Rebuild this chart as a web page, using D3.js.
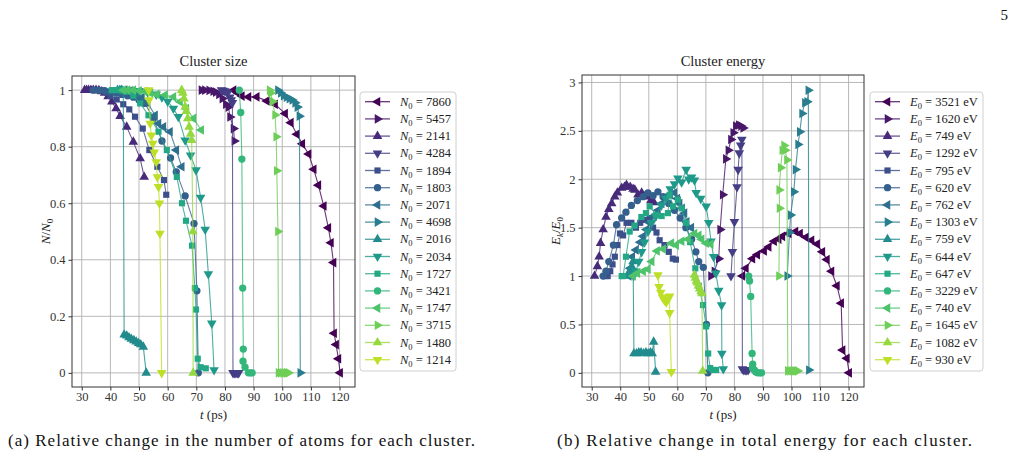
<!DOCTYPE html>
<html>
<head>
<meta charset="utf-8">
<script src="https://cdn.jsdelivr.net/npm/d3@7"></script>
<style>
  body { margin: 0; background: #fff; }
  svg { display: block; font-family: "Liberation Serif", "DejaVu Serif", serif; }
</style>
</head>
<body>
<div id="chart"></div>
<script>
// legend values (N0 for left panel, E0 in eV for right panel)
const sizeLabels = [7860, 5457, 2141, 4284, 1894, 1803, 2071, 4698, 2016, 2034, 1727, 3421, 1747, 3715, 1480, 1214];
const energyLabels = [3521, 1620, 749, 1292, 795, 620, 762, 1303, 759, 644, 647, 3229, 740, 1645, 1082, 930];
const markerCycle = ['<', '>', '^', 'v', 's', 'o'];

const timeTicks = [30, 40, 50, 60, 70, 80, 90, 100, 110, 120];
const sizeTicks = [0, 0.2, 0.4, 0.6, 0.8, 1];
const energyTicks = [0, 0.5, 1, 1.5, 2, 2.5, 3];

// N/N0 against t (ps), one list per cluster, same order as sizeLabels
const sizeData = [
  [[83,1],[84.5,0.99],[85.9,0.979],[88.2,0.976],[91.1,0.976],[94.6,0.962],[97.5,0.95],[101,0.917],[103,0.885],[105.1,0.844],[107,0.81],[109.2,0.774],[111,0.72],[112.6,0.664],[114.5,0.59],[116.1,0.513],[117,0.46],[117.9,0.39],[118.1,0.14],[118.8,0.1],[119.6,0.05],[120.2,0]],
  [[71.8,1],[73,1],[74.5,0.999],[75.9,0.996],[76.8,0.993],[77.9,0.985],[79.1,0.97],[80.3,0.95],[81.2,0.94],[81.8,0.905],[83,0.864],[83.3,0.82]],
  [[31,1],[31.7,1],[32.4,1],[33.2,1],[34,1],[35,1],[36,0.999],[37,0.995],[38,0.99],[39.2,0.978],[40.5,0.959],[42,0.935],[43.4,0.908],[45.7,0.87],[48,0.817],[50.4,0.758],[51.8,0.693]],
  [[78.8,1],[79.3,0.999],[80,0.997],[80.9,0.99],[81.7,0.975],[82.2,0.965],[82.6,0.955],[82.8,0],[83.3,0],[83.8,0],[84.3,0],[84.8,0]],
  [[35,1],[36,1],[37,0.999],[38,0.995],[39,0.99],[40,0.98],[42.2,0.967],[44.5,0.95],[46.6,0.932],[48.6,0.906],[51.3,0.864],[53.6,0.788],[56.4,0.729],[58.7,0.682],[59.5,0.63]],
  [[34,1],[36,1],[38,0.998],[40,0.995],[42,0.99],[44,0.985],[46,0.98],[48,0.975],[50,0.965],[52.1,0.953],[55,0.9],[58,0.82],[61,0.76],[63,0.711],[66.1,0.626],[69.2,0.528],[70.2,0.29],[70.7,0]],
  [[43,1],[45,1],[47,0.998],[49,0.99],[51,0.975],[53,0.955],[55.6,0.911],[56.8,0.882],[58.5,0.87],[60.8,0.853],[63,0.788],[64.9,0.729]],
  [[98.5,1],[99.5,0.99],[100.5,0.98],[101.5,0.975],[102.5,0.97],[103.5,0.965],[104.5,0.955],[105.3,0.94],[106,0.908],[106.3,0]],
  [[42.5,1],[43.3,1],[44,1],[44.5,0.995],[44.8,0.135],[45.7,0.131],[46.5,0.125],[47.3,0.12],[48.2,0.115],[49,0.11],[49.8,0.105],[50.6,0.1],[51.5,0.092],[52.5,0]],
  [[44.7,1],[47,1],[50,0.998],[53,0.993],[56,0.985],[58,0.975],[60,0.96],[62,0.935],[63.7,0.906],[66.1,0.823],[68,0.77],[69.9,0.717],[71.5,0.62],[73.1,0.507],[74.2,0.35],[75.4,0.175],[76.2,0.01]],
  [[40.5,1],[42,1],[44,1],[46,0.995],[48,0.98],[50.4,0.953],[53.3,0.911],[56.8,0.853],[59.7,0.788],[63.2,0.693],[65,0.6],[66.4,0.538],[68.5,0.45],[69.5,0.3],[69.9,0.224],[70.5,0.05],[71.5,0.02],[73.3,0.016]],
  [[85,1],[85.5,0.921],[85.9,0.756],[86.2,0.3],[86.4,0.084],[86.3,0.041],[87,0.02],[88.2,0],[89,0],[89.5,0]],
  [[44.5,1],[46,1],[48,1],[50,0.998],[52,0.995],[54,0.99],[56.2,0.985],[59.1,0.983],[62,0.976],[64.3,0.959],[66.5,0.935],[69,0.9],[71.7,0.859]],
  [[95.6,1],[96,0.99],[96.6,0.96],[97.5,0.912],[97.9,0.835],[98.1,0.715],[98.5,0.5],[98.7,0],[99.5,0],[100.3,0],[101,0],[101.6,0],[102.2,0]],
  [[64.9,1],[65.3,0.99],[65.7,0.97],[66.1,0.941],[66.5,0.925],[67,0.9],[67.5,0.87],[68,0.845],[68.4,0.823],[68.8,0.5],[68.9,0]],
  [[53.3,1],[53.5,0.965],[53.9,0.882],[54.3,0.84],[54.8,0.811],[55.3,0.78],[56,0.746],[56.4,0.693],[56.8,0.658],[57.1,0.6],[57.3,0.493],[57.9,0]]
];

// Ek/E0 against t (ps), same order as energyLabels
const energyData = [
  [[82.8,1],[84,1.08],[86.3,1.18],[88,1.22],[90.4,1.26],[92,1.3],[93.9,1.36],[95.5,1.38],[96.8,1.41],[99,1.44],[101.4,1.46],[103,1.44],[105.1,1.4],[107,1.37],[109,1.33],[110.8,1.25],[112.4,1.17],[114,1.05],[115.9,0.9],[117.4,0.72],[117.9,0.235],[119.4,0.15],[120.2,0]],
  [[71.8,1],[73,1.05],[74.5,1.18],[75,1.48],[75.9,1.84],[77,2.21],[77.9,2.3],[78.8,2.41],[79.6,2.48],[80.5,2.55],[81.5,2.56],[82.3,2.55],[83.1,2.53]],
  [[31,1],[32,1.1],[32.6,1.2],[33.1,1.34],[34,1.48],[35,1.61],[36,1.69],[37,1.75],[38.1,1.82],[39,1.86],[40.5,1.91],[41.5,1.92],[42.2,1.94],[43.5,1.92],[44.5,1.9],[45.1,1.89],[46.2,1.84],[47.5,1.86],[48.5,1.82],[49.6,1.83],[50.7,1.78],[51.8,1.76]],
  [[78.8,1],[79.3,1.25],[80,1.56],[80.9,1.92],[81.3,2.1],[81.7,2.27],[82.2,2.35],[82.6,2.41],[82.8,0.04],[83.3,0.03],[83.8,0.03],[84.3,0.03],[84.8,0.03]],
  [[35,1],[35.6,1],[36.5,1.05],[37.3,1.12],[38.1,1.2],[39,1.32],[39.9,1.44],[41,1.42],[42.2,1.55],[43.9,1.55],[45.5,1.5],[47,1.55],[48.5,1.58],[50.3,1.6],[51.5,1.5],[52.7,1.45],[53.8,1.37],[55.5,1.32],[57,1.25],[58.4,1.18],[59.5,1.17]],
  [[34,1],[35,1.05],[36,1.15],[37.6,1.32],[38.7,1.53],[40.5,1.6],[42,1.66],[43.9,1.73],[46,1.78],[48,1.82],[49.7,1.86],[51.5,1.83],[53.2,1.87],[55,1.82],[57,1.75],[59,1.68],[61,1.6],[63,1.5],[65,1.38],[66.5,1.25],[67.5,1.15],[69.1,1.09],[70.2,0.5],[70.7,0]],
  [[43,1],[43.5,1.08],[44.2,1.2],[45.5,1.27],[47,1.35],[48,1.41],[49.2,1.48],[50.3,1.55],[51.8,1.62],[53.2,1.68],[54.5,1.75],[55.9,1.82],[57.5,1.84],[59,1.86],[60,1.8],[60.8,1.75],[61.7,1.7],[62.5,1.65],[63.3,1.56],[64.9,1.5]],
  [[98.5,1],[99.3,1.45],[99.7,1.63],[100.8,1.87],[101.4,2.1],[102.3,2.36],[102.9,2.49],[103.7,2.68],[104.7,2.79],[105.5,2.8],[105.9,2.92],[106.1,0.03]],
  [[42.5,1],[43.3,1.05],[44,1.1],[44.5,1.15],[44.8,0.2],[45.7,0.2],[46.5,0.21],[47.3,0.21],[48.2,0.2],[49,0.21],[49.8,0.2],[50.6,0.21],[51.2,0.2],[51.7,0.32],[52.4,0.01]],
  [[44.7,1],[45.5,1.05],[46.5,1.15],[47.5,1.25],[48.5,1.35],[49.7,1.46],[51,1.55],[52.5,1.62],[54.4,1.73],[56,1.8],[57.5,1.9],[59,1.95],[60.2,2.01],[61.5,1.97],[63.1,2.1],[64,2.0],[65,2.02],[66,1.99],[66.6,1.86],[68.2,1.8],[70.1,1.72],[71,1.55],[71.8,1.36],[72.7,1.2],[73.5,1.03],[74.5,0.85],[75.5,0.7],[75.6,0.2],[76.1,0.04]],
  [[40.5,1],[41,1],[42,1.2],[43.3,1.46],[45,1.52],[47.4,1.61],[49,1.65],[50.3,1.72],[52.6,1.63],[54.5,1.62],[56.7,1.65],[57.3,1.84],[58.5,1.72],[60.2,1.79],[61.5,1.7],[63,1.55],[64.5,1.35],[66.3,1.08],[67.5,0.9],[69,0.7],[70.1,0.48],[70.8,0.2],[71.5,0.05],[72.4,0.03],[73.6,0.03]],
  [[85,1],[85.3,0.95],[85.7,0.79],[86.2,0.2],[86.4,0.09],[86.3,0.05],[87,0.03],[87.5,0.01],[88.2,0],[89,0],[89.5,0]],
  [[44.5,1],[46,1.03],[48,1.05],[49.7,1.07],[51,1.15],[52.9,1.26],[55,1.28],[57.9,1.34],[59.6,1.32],[61.5,1.36],[63.7,1.38],[66,1.44],[67.5,1.42],[68.5,1.38],[70.1,1.34],[71.7,1.33]],
  [[95.6,1],[95.8,1.7],[95.7,1.89],[96.2,2.12],[96.8,2.3],[97.4,2.35],[97.8,2.3],[98.4,2.2],[98.7,0.02],[99.5,0.02],[100.3,0.02],[101,0.02],[101.6,0.02],[102.2,0.02]],
  [[66,1.01],[66.3,0.98],[66.7,0.95],[67,0.93],[67.4,0.9],[67.8,0.87],[68.3,0.84],[68.6,0.82],[68.9,0.02]],
  [[53.2,1.01],[53.6,0.89],[54.2,0.83],[54.8,0.78],[55.5,0.75],[56.1,0.73],[56.7,0.76],[57.3,0.79],[57.3,0.62],[57.9,0.01]]
];

const W = 1021, H = 458;
const colors = sizeLabels.map((d, i) => d3.interpolateViridis(i / 15 * 0.9));

const svg = d3.select("#chart").append("svg")
  .attr("width", W)
  .attr("height", H);

function markerPath(m) {
  if (m === 's') return d3.symbol(d3.symbolSquare, 38)();
  if (m === 'o') return d3.symbol(d3.symbolCircle, 42)();
  return d3.symbol(d3.symbolTriangle, 40)();
}
function markerRotate(m) {
  return { '^': 0, 'v': 180, '<': -90, '>': 90 }[m] || 0;
}

function drawPanel(opt) {
  const x = d3.scaleLinear().domain([26.6, 125.4]).range([opt.left, opt.right]);
  const y = d3.scaleLinear().domain(opt.ydomain).range([387, opt.top]);
  const g = svg.append("g");

  // grid
  g.selectAll(".vgrid").data(timeTicks).enter().append("line")
    .attr("x1", d => x(d)).attr("x2", d => x(d))
    .attr("y1", opt.top).attr("y2", 387)
    .attr("stroke", "#b0b0b0").attr("stroke-width", 0.9);
  g.selectAll(".hgrid").data(opt.yticks).enter().append("line")
    .attr("x1", opt.left).attr("x2", opt.right)
    .attr("y1", d => y(d)).attr("y2", d => y(d))
    .attr("stroke", "#b0b0b0").attr("stroke-width", 0.9);

  const line = d3.line().x(d => x(d[0])).y(d => y(d[1]));

  const plot = g.append("g");
  opt.data.forEach((series, i) => {
    const m = markerCycle[i % 6];
    plot.append("path")
      .attr("d", line(series))
      .attr("fill", "none")
      .attr("stroke", colors[i])
      .attr("stroke-opacity", 0.8)
      .attr("stroke-width", 1.1);
    plot.selectAll(null).data(series).enter().append("path")
      .attr("d", markerPath(m))
      .attr("transform", d => `translate(${x(d[0])},${y(d[1])}) rotate(${markerRotate(m)})`)
      .attr("fill", colors[i]);
  });

  // axes
  const xAxis = d3.axisBottom(x).tickValues(timeTicks).tickSize(3.5).tickPadding(1.5);
  const yAxis = d3.axisLeft(y).tickValues(opt.yticks).tickSize(3.5).tickPadding(3)
    .tickFormat(d3.format("~g"));
  const xa = g.append("g").attr("transform", "translate(0,387)").call(xAxis);
  const ya = g.append("g").attr("transform", `translate(${opt.left},0)`).call(yAxis);
  [xa, ya].forEach(a => {
    a.select(".domain").remove();
    a.selectAll("line").attr("stroke", "#333");
    a.selectAll("text").attr("font-family", "Liberation Serif, serif")
      .attr("font-size", 12.5).attr("fill", "#333");
  });

  g.append("rect")
    .attr("x", opt.left).attr("y", opt.top)
    .attr("width", opt.right - opt.left).attr("height", 387 - opt.top)
    .attr("fill", "none").attr("stroke", "#333").attr("stroke-width", 1);

  // title
  g.append("text")
    .attr("x", (opt.left + opt.right) / 2).attr("y", 66)
    .attr("text-anchor", "middle").attr("font-size", 14.5).attr("fill", "#222")
    .text(opt.title);

  // x label
  const xl = g.append("text")
    .attr("x", (opt.left + opt.right) / 2).attr("y", 419)
    .attr("text-anchor", "middle").attr("font-size", 13).attr("fill", "#222");
  xl.append("tspan").attr("font-style", "italic").text("t");
  xl.append("tspan").text(" (ps)");

  // y label
  const yl = g.append("text")
    .attr("transform", `translate(${opt.left - 22},${(opt.top + 387) / 2}) rotate(-90)`)
    .attr("text-anchor", "middle").attr("font-size", 13).attr("fill", "#222");
  opt.ylabel(yl);

  // legend
  const lx = opt.legendX, lw = opt.legendW;
  const leg = g.append("g");
  leg.append("rect")
    .attr("x", lx).attr("y", 92).attr("width", lw).attr("height", 279)
    .attr("rx", 3).attr("fill", "#fff").attr("fill-opacity", 0.8)
    .attr("stroke", "#d0d0d0").attr("stroke-width", 1);
  opt.labels.forEach((lab, i) => {
    const yy = 101.7 + i * 17.2;
    const m = markerCycle[i % 6];
    leg.append("line")
      .attr("x1", lx + 5).attr("x2", lx + 30)
      .attr("y1", yy).attr("y2", yy)
      .attr("stroke", colors[i]).attr("stroke-opacity", 0.8).attr("stroke-width", 1.3);
    leg.append("path")
      .attr("d", markerPath(m))
      .attr("transform", `translate(${lx + 17.5},${yy}) rotate(${markerRotate(m)})`)
      .attr("fill", colors[i]);
    const t = leg.append("text")
      .attr("x", lx + 40).attr("y", yy + 4)
      .attr("font-size", 12.5).attr("fill", "#222");
    t.append("tspan").attr("font-style", "italic").text(opt.symbol);
    t.append("tspan").attr("font-size", 8.5).attr("dy", 3).text("0");
    t.append("tspan").attr("dy", -3).text(` = ${lab}${opt.unit}`);
  });
}

drawPanel({
  left: 72, right: 355, top: 76,
  ydomain: [-0.05, 1.05], yticks: sizeTicks,
  data: sizeData, labels: sizeLabels,
  title: "Cluster size", symbol: "N", unit: "",
  legendX: 360, legendW: 96,
  ylabel: t => {
    t.append("tspan").attr("font-style", "italic").text("N");
    t.append("tspan").text("/");
    t.append("tspan").attr("font-style", "italic").text("N");
    t.append("tspan").attr("font-size", 9).attr("dy", 3).text("0");
  }
});

drawPanel({
  left: 582, right: 864, top: 75,
  ydomain: [-0.146, 3.077], yticks: energyTicks,
  data: energyData, labels: energyLabels,
  title: "Cluster energy", symbol: "E", unit: " eV",
  legendX: 870, legendW: 113,
  ylabel: t => {
    t.append("tspan").attr("font-style", "italic").text("E");
    t.append("tspan").attr("font-style", "italic").attr("font-size", 9).attr("dy", 3).text("k");
    t.append("tspan").attr("dy", -3).text("/");
    t.append("tspan").attr("font-style", "italic").text("E");
    t.append("tspan").attr("font-size", 9).attr("dy", 3).text("0");
  }
});

// page number and captions
svg.append("text").attr("x", 1008).attr("y", 20).attr("text-anchor", "end")
  .attr("font-size", 15).attr("fill", "#111").text("5");
svg.append("text").attr("x", 8).attr("y", 446)
  .attr("font-size", 17).attr("fill", "#111")
  .attr("textLength", 467).attr("lengthAdjust", "spacing")
  .text("(a) Relative change in the number of atoms for each cluster.");
svg.append("text").attr("x", 557).attr("y", 446)
  .attr("font-size", 17).attr("fill", "#111")
  .attr("textLength", 415).attr("lengthAdjust", "spacing")
  .text("(b) Relative change in total energy for each cluster.");
</script>
</body>
</html>
